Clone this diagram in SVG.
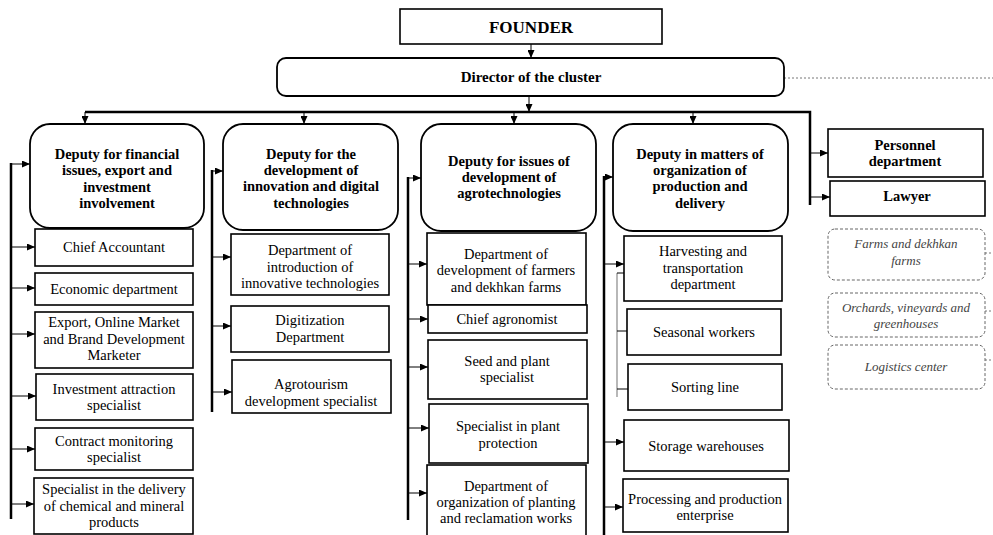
<svg xmlns="http://www.w3.org/2000/svg" width="993" height="535" viewBox="0 0 993 535">
<defs>
<marker id="ah" markerWidth="8" markerHeight="7" refX="8" refY="3.5" orient="auto" markerUnits="userSpaceOnUse">
<path d="M0,0 L8,3.5 L0,7 Z" fill="#000"/>
</marker>
<style>
text{font-family:'Liberation Serif','Times New Roman','DejaVu Serif',serif;fill:#000;text-anchor:middle}
.t{font-size:14.5px}
.b{font-size:14.5px;font-weight:bold}
.i{font-size:13px;font-style:italic;fill:#444}
.box{fill:#fff;stroke:#000;stroke-width:1.6}
.dep{fill:#fff;stroke:#000;stroke-width:1.8}
.dash{fill:#fff;stroke:#666;stroke-width:1;stroke-dasharray:3,2}
.thick{stroke:#000;stroke-width:2.5;fill:none}
.arr{stroke:#000;stroke-width:1;fill:none;marker-end:url(#ah)}
.thin{stroke:#000;stroke-width:1;fill:none}
.gray{stroke:#888;stroke-width:1.2;fill:none}
.dot{stroke:#777;stroke-width:1;stroke-dasharray:2,2;fill:none}
</style>
</defs>
<rect width="993" height="535" fill="#fff"/>

<g id="connectors">
<line class="arr" x1="531" y1="44" x2="531" y2="58"/>
<line class="arr" x1="529" y1="96" x2="529" y2="112"/>
<polyline class="thick" points="85,112 810,112 810,205"/>
<line class="arr" x1="85" y1="112" x2="85" y2="124"/>
<line class="arr" x1="304" y1="112" x2="304" y2="124"/>
<line class="arr" x1="514" y1="112" x2="514" y2="124"/>
<line class="arr" x1="693" y1="112" x2="693" y2="124"/>
<line class="arr" x1="810" y1="153" x2="828" y2="153"/>
<line class="arr" x1="810" y1="197" x2="830" y2="197"/>
<line class="dot" x1="784" y1="78" x2="993" y2="78"/>
<line class="dot" x1="985" y1="253" x2="993" y2="253"/>
<line class="dot" x1="985" y1="311" x2="993" y2="311"/>
<line class="dot" x1="985" y1="360" x2="993" y2="360"/>
<line class="thick" x1="11" y1="163" x2="11" y2="519"/>
<line class="arr" x1="11" y1="164" x2="30" y2="164"/>
<line class="arr" x1="11" y1="247" x2="35" y2="247"/>
<line class="arr" x1="11" y1="288" x2="35" y2="288"/>
<line class="arr" x1="11" y1="334" x2="35" y2="334"/>
<line class="arr" x1="11" y1="396" x2="36" y2="396"/>
<line class="arr" x1="11" y1="449" x2="35" y2="449"/>
<line class="arr" x1="11" y1="504" x2="34" y2="504"/>
<line class="thick" x1="212" y1="170" x2="212" y2="412"/>
<line class="arr" x1="212" y1="171" x2="223" y2="171"/>
<line class="arr" x1="212" y1="257" x2="231" y2="257"/>
<line class="arr" x1="212" y1="326" x2="231" y2="326"/>
<line class="arr" x1="212" y1="392" x2="232" y2="392"/>
<line class="thick" x1="408" y1="177" x2="408" y2="520"/>
<line class="arr" x1="408" y1="178" x2="421" y2="178"/>
<line class="arr" x1="408" y1="264" x2="427" y2="264"/>
<line class="arr" x1="408" y1="319" x2="428" y2="319"/>
<line class="arr" x1="408" y1="367" x2="428" y2="367"/>
<line class="arr" x1="408" y1="428" x2="429" y2="428"/>
<line class="arr" x1="408" y1="493" x2="427" y2="493"/>
<line class="thick" x1="604" y1="176" x2="604" y2="535"/>
<line class="arr" x1="604" y1="177" x2="613" y2="177"/>
<line class="arr" x1="604" y1="264" x2="624" y2="264"/>
<line class="arr" x1="604" y1="442" x2="624" y2="442"/>
<line class="arr" x1="604" y1="507" x2="623" y2="507"/>
<line class="gray" x1="617" y1="273" x2="617" y2="397"/>
<line class="thin" x1="617" y1="273" x2="624" y2="273"/>
<line class="thin" x1="617" y1="331" x2="627" y2="331"/>
<line class="thin" x1="617" y1="389" x2="628" y2="389"/>
</g>

<g id="founder"><rect class="box" x="400" y="9" width="262" height="35"/><text x="531" y="33" style="font-size:17px;font-weight:bold">FOUNDER</text></g>
<g id="director"><rect class="dep" x="277" y="58" width="507" height="38" rx="9"/><text class="b" x="531" y="82" style="font-size:15px">Director of the cluster</text></g>

<g id="deputy1"><rect class="dep" x="30" y="124" width="174" height="104" rx="20"/>
<text class="b" x="117" y="159">Deputy for financial</text><text class="b" x="117" y="175">issues, export and</text><text class="b" x="117" y="192">investment</text><text class="b" x="117" y="208">involvement</text></g>
<g id="deputy2"><rect class="dep" x="223" y="124" width="175" height="106" rx="20"/>
<text class="b" x="311" y="159">Deputy for the</text><text class="b" x="311" y="175">development of</text><text class="b" x="311" y="191">innovation and digital</text><text class="b" x="311" y="208">technologies</text></g>
<g id="deputy3"><rect class="dep" x="421" y="124" width="175" height="107" rx="20"/>
<text class="b" x="509" y="166">Deputy for issues of</text><text class="b" x="509" y="182">development of</text><text class="b" x="509" y="198">agrotechnologies</text></g>
<g id="deputy4"><rect class="dep" x="613" y="124" width="175" height="107" rx="20"/>
<text class="b" x="700" y="159">Deputy in matters of</text><text class="b" x="700" y="175">organization of</text><text class="b" x="700" y="191">production and</text><text class="b" x="700" y="208">delivery</text></g>

<g id="personnel"><rect class="box" x="828" y="129" width="155" height="48"/><text class="b" x="905" y="150">Personnel</text><text class="b" x="905" y="166">department</text></g>
<g id="lawyer"><rect class="box" x="830" y="181" width="155" height="35"/><text class="b" x="907" y="201">Lawyer</text></g>
<g id="farms"><rect class="dash" x="828" y="229" width="157" height="51" rx="7"/><text class="i" x="906" y="248">Farms and dekhkan</text><text class="i" x="906" y="265">farms</text></g>
<g id="orchards"><rect class="dash" x="828" y="293" width="157" height="44" rx="7"/><text class="i" x="906" y="312">Orchards, vineyards and</text><text class="i" x="906" y="328">greenhouses</text></g>
<g id="logistics"><rect class="dash" x="828" y="345" width="157" height="44" rx="7"/><text class="i" x="906" y="371">Logistics center</text></g>

<g id="chief-accountant"><rect class="box" x="35" y="229" width="158" height="37"/><text class="t" x="114" y="252">Chief Accountant</text></g>
<g id="economic"><rect class="box" x="35" y="273" width="158" height="32"/><text class="t" x="114" y="294">Economic department</text></g>
<g id="export"><rect class="box" x="35" y="312" width="158" height="56"/><text class="t" x="114" y="327">Export, Online Market</text><text class="t" x="114" y="344">and Brand Development</text><text class="t" x="114" y="360">Marketer</text></g>
<g id="investment"><rect class="box" x="36" y="374" width="157" height="46"/><text class="t" x="114" y="394">Investment attraction</text><text class="t" x="114" y="410">specialist</text></g>
<g id="contract"><rect class="box" x="35" y="428" width="158" height="42"/><text class="t" x="114" y="446">Contract monitoring</text><text class="t" x="114" y="462">specialist</text></g>
<g id="delivery"><rect class="box" x="34" y="478" width="159" height="56"/><text class="t" x="114" y="494">Specialist in the delivery</text><text class="t" x="114" y="511">of chemical and mineral</text><text class="t" x="114" y="527">products</text></g>

<g id="innovative"><rect class="box" x="231" y="234" width="158" height="61"/><text class="t" x="310" y="255">Department of</text><text class="t" x="310" y="272">introduction of</text><text class="t" x="310" y="288">innovative technologies</text></g>
<g id="digitization"><rect class="box" x="231" y="306" width="158" height="46"/><text class="t" x="310" y="325">Digitization</text><text class="t" x="310" y="342">Department</text></g>
<g id="agrotourism"><rect class="box" x="232" y="360" width="159" height="53"/><text class="t" x="311" y="389">Agrotourism</text><text class="t" x="311" y="406">development specialist</text></g>

<g id="farmers-dept"><rect class="box" x="427" y="233" width="159" height="72"/><text class="t" x="506" y="259">Department of</text><text class="t" x="506" y="275">development of farmers</text><text class="t" x="506" y="292">and dekhkan farms</text></g>
<g id="agronomist"><rect class="box" x="428" y="305" width="159" height="28"/><text class="t" x="507" y="324">Chief agronomist</text></g>
<g id="seed"><rect class="box" x="428" y="340" width="159" height="59"/><text class="t" x="507" y="366">Seed and plant</text><text class="t" x="507" y="382">specialist</text></g>
<g id="protection"><rect class="box" x="429" y="404" width="159" height="59"/><text class="t" x="508" y="431">Specialist in plant</text><text class="t" x="508" y="448">protection</text></g>
<g id="planting"><rect class="box" x="427" y="465" width="159" height="72"/><text class="t" x="506" y="491">Department of</text><text class="t" x="506" y="507">organization of planting</text><text class="t" x="506" y="523">and reclamation works</text></g>

<g id="harvesting"><rect class="box" x="624" y="236" width="158" height="65"/><text class="t" x="703" y="256">Harvesting and</text><text class="t" x="703" y="273">transportation</text><text class="t" x="703" y="289">department</text></g>
<g id="seasonal"><rect class="box" x="627" y="309" width="154" height="46"/><text class="t" x="704" y="337">Seasonal workers</text></g>
<g id="sorting"><rect class="box" x="628" y="364" width="154" height="46"/><text class="t" x="705" y="392">Sorting line</text></g>
<g id="storage"><rect class="box" x="624" y="420" width="165" height="51"/><text class="t" x="706" y="451">Storage warehouses</text></g>
<g id="processing"><rect class="box" x="623" y="479" width="165" height="53"/><text class="t" x="705" y="504">Processing and production</text><text class="t" x="705" y="520">enterprise</text></g>
</svg>
